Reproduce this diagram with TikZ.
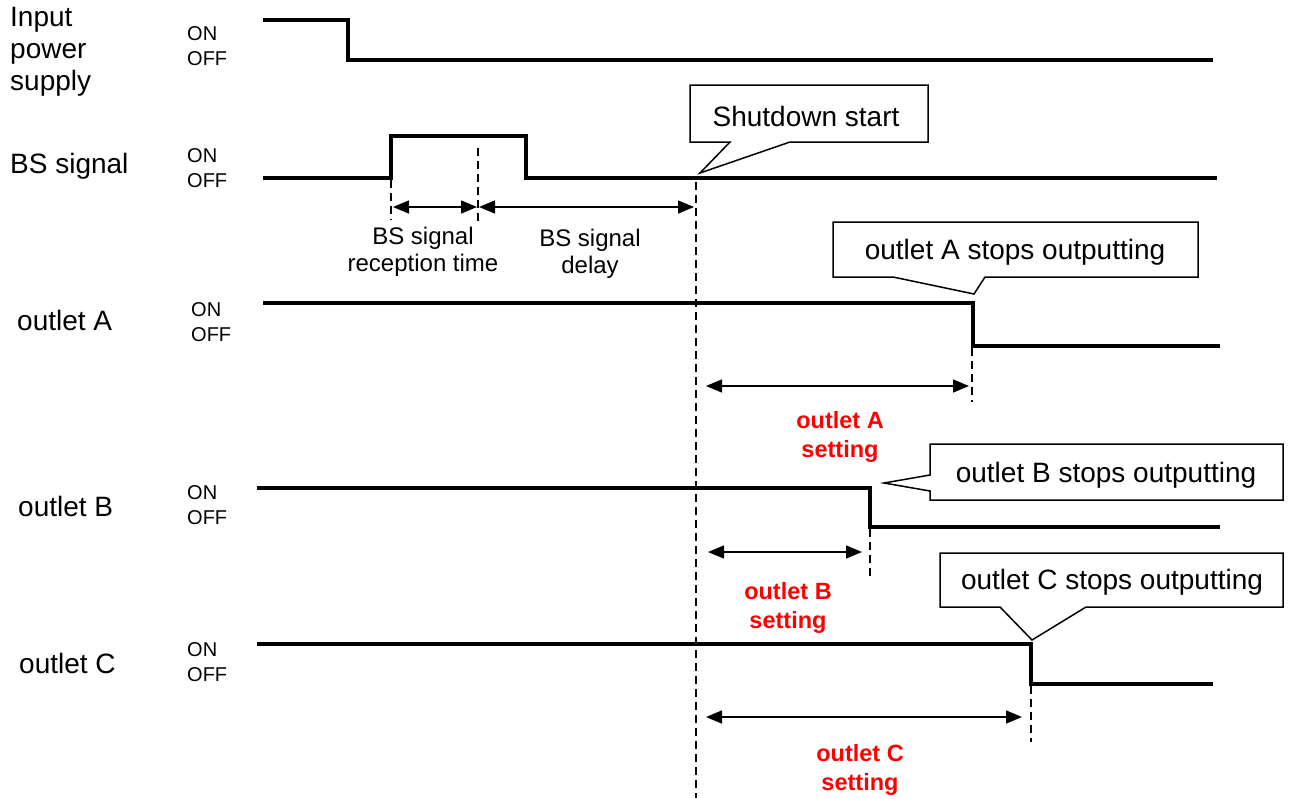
\documentclass[tikz,border=0pt]{standalone}
\usepackage{fontspec}
\setmainfont{Liberation Sans}
\usetikzlibrary{arrows.meta}
\begin{document}
\begin{tikzpicture}[x=1pt,y=-1pt,
  wave/.style={line width=4pt, line join=miter},
  guide/.style={line width=1.5pt, dash pattern=on 8pt off 5pt},
  span/.style={line width=1.5pt, {Triangle[length=16pt,width=13pt]}-{Triangle[length=16pt,width=13pt]}},
  callout/.style={draw, line width=1.5pt, fill=white, line join=miter},
  lbl/.style={font=\fontsize{28}{32}\selectfont, align=left, inner sep=0pt, anchor=west},
  onoff/.style={font=\fontsize{20}{24.5}\selectfont, align=left, inner sep=0pt, anchor=west},
  note/.style={font=\fontsize{24}{27}\selectfont, align=center, inner sep=0pt},
  setting/.style={font=\fontsize{23.5}{29}\selectfont\bfseries, text=red, align=center, inner sep=0pt},
  say/.style={font=\fontsize{28}{32}\selectfont, inner sep=0pt}]
\useasboundingbox (0,0) rectangle (1289,798);

% key coordinates
\coordinate (bsup) at (391,207);
\coordinate (bsrx) at (478,207);
\coordinate (sd) at (696,207);
\coordinate (sdA) at (696,386);
\coordinate (stA) at (972,386);
\coordinate (sdB) at (696,552);
\coordinate (stB) at (870,552);
\coordinate (sdC) at (696,717);
\coordinate (stC) at (1031,717);

% labels
\node[lbl] (lin) at (10,52) {Input\\power\\supply};
\node[lbl] (lbs) at (10,166) {BS signal};
\node[lbl] (la) at (17,320) {outlet A};
\node[lbl] (lb) at (18,506) {outlet B};
\node[lbl] (lc) at (19,663) {outlet C};

\node[onoff] (oin) at (187,46) {ON\\OFF};
\node[onoff] (obs) at (187,168) {ON\\OFF};
\node[onoff] (oa) at (191,322) {ON\\OFF};
\node[onoff] (ob) at (187,505) {ON\\OFF};
\node[onoff] (oc) at (187,662) {ON\\OFF};

% dashed guides
\draw[guide] (391,180) -- (391,220);
\draw[guide] (478,148) -- (478,225);
\draw[guide] (696,182) -- (696,798);
\draw[guide] (972,348) -- (972,402);
\draw[guide] (870,529) -- (870,580);
\draw[guide] (1031,686) -- (1031,742);

% waveforms
\draw[wave] (263,20) -- (348,20) -- (348,60) -- (1213,60);
\draw[wave] (263,178) -- (391,178) -- (391,136) -- (526,136) -- (526,178) -- (1217,178);
\draw[wave] (263,303) -- (973,303) -- (973,346) -- (1220,346);
\draw[wave] (257,488) -- (870,488) -- (870,527) -- (1220,527);
\draw[wave] (257,644) -- (1031,644) -- (1031,684) -- (1213,684);

% spans
\draw[span] ([xshift=2pt]bsup) -- ([xshift=-1pt]bsrx);
\draw[span] ([xshift=1pt]bsrx) -- ([xshift=-2pt]sd);
\draw[span] ([xshift=10pt]sdA) -- ([xshift=-3pt]stA);
\draw[span] ([xshift=12pt]sdB) -- ([xshift=-8pt]stB);
\draw[span] ([xshift=10pt]sdC) -- ([xshift=-9pt]stC);

\node[note] (nrx) at (423,252) {BS signal\\reception time};
\node[note] (ndl) at (590,254) {BS signal\\delay};
\node[setting] (sa) at (840,437) {outlet A\\setting};
\node[setting] (sb) at (788,608) {outlet B\\setting};
\node[setting] (sc) at (860,770) {outlet C\\setting};

% callouts
\draw[callout] (690,85) -- (928,85) -- (928,142) -- (790,142) -- (700,173) -- (730,142) -- (690,142) -- cycle;
\node[say] (csd) at (806,116) {Shutdown start};
\draw[callout] (833,222) -- (1198,222) -- (1198,277) -- (985,277) -- (974,294) -- (893,277) -- (833,277) -- cycle;
\node[say] (cA) at (1015,252) {outlet A stops outputting};
\draw[callout] (930,444) -- (1283,444) -- (1283,500) -- (930,500) -- (930,491) -- (884,483) -- (930,475) -- cycle;
\node[say] (cB) at (1106,475) {outlet B stops outputting};
\draw[callout] (940,553) -- (1283,553) -- (1283,607) -- (1086,607) -- (1032,640) -- (1000,607) -- (940,607) -- cycle;
\node[say] (cC) at (1112,582) {outlet C stops outputting};
\end{tikzpicture}
\end{document}
